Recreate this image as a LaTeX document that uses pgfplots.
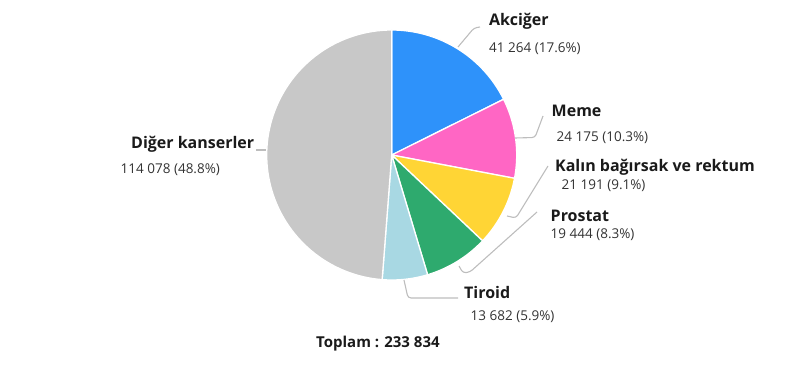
\documentclass[border=0pt]{standalone}
\usepackage{pgfplots}
\pgfplotsset{compat=1.18}
\usepackage{fontspec}
\setmainfont{Open Sans}
\definecolor{cA}{HTML}{2E92FA}
\definecolor{cB}{HTML}{FF66C4}
\definecolor{cC}{HTML}{FFD535}
\definecolor{cD}{HTML}{2EAA6E}
\definecolor{cE}{HTML}{A8D8E3}
\definecolor{cF}{HTML}{C8C8C8}
\definecolor{leader}{HTML}{BDBDBD}
\definecolor{lab}{HTML}{1A1A1A}
\definecolor{val}{HTML}{333333}
% data
\newcommand\vA{41264}% Akciger
\newcommand\vB{24175}% Meme
\newcommand\vC{21191}% Kalin bagirsak
\newcommand\vD{19444}% Prostat
\newcommand\vE{13682}% Tiroid
\newcommand\vF{114078}% Diger
\edef\tot{\fpeval{\vA+\vB+\vC+\vD+\vE+\vF}}
\edef\aO{90}
\edef\aA{\fpeval{\aO-360*\vA/\tot}}
\edef\aB{\fpeval{\aA-360*\vB/\tot}}
\edef\aC{\fpeval{\aB-360*\vC/\tot}}
\edef\aD{\fpeval{\aC-360*\vD/\tot}}
\edef\aE{\fpeval{\aD-360*\vE/\tot}}
\edef\aF{\fpeval{\aE-360*\vF/\tot}}
\newcommand\slice[3]{%
  \addplot[fill=#1, draw=white, line width=1.3bp, line join=round, domain=#2:#3, samples=80, mark=none]
    ({391.7+125*cos(x)},{212+125*sin(x)}) -- (axis cs:391.7,212) -- cycle;}
\newcommand\lab[3]{\node[anchor=base west, inner sep=0pt, text=lab, font=\fontsize{16bp}{19bp}\selectfont\bfseries] at (axis cs:#1,#2) {#3};}
\newcommand\val[3]{\node[anchor=base west, inner sep=0pt, text=val, font=\fontsize{13.5bp}{16bp}\selectfont] at (axis cs:#1,#2) {#3};}
\begin{document}
\begin{tikzpicture}
\begin{axis}[width=800bp,height=367bp,scale only axis,xmin=0,xmax=800,ymin=0,ymax=367,hide axis,clip=false]
\path (axis cs:0,0) rectangle (axis cs:800,367);
\slice{cA}{\aA}{\aO}
\slice{cB}{\aB}{\aA}
\slice{cC}{\aC}{\aB}
\slice{cD}{\aD}{\aC}
\slice{cE}{\aE}{\aD}
\slice{cF}{\aF}{\aE}
% leader lines
\addplot[color=leader, line width=1.1bp, rounded corners=3bp, mark=none] coordinates {(458,320) (474,339) (480,340)};
\addplot[color=leader, line width=1.1bp, rounded corners=3bp, mark=none] coordinates {(515,229) (535,229.5) (543,251)};
\addplot[color=leader, line width=1.1bp, rounded corners=3bp, mark=none] coordinates {(507,151) (516,149) (548,201)};
\addplot[color=leader, line width=1.1bp, rounded corners=3bp, mark=none] coordinates {(459,101) (463,94) (470,95) (537,155)};
\addplot[color=leader, line width=1.1bp, rounded corners=3bp, mark=none] coordinates {(404,87) (408,69) (458,69)};
\addplot[color=leader, line width=1.1bp, mark=none] coordinates {(256,217) (266,217)};
% labels
\lab{489}{341}{Akciğer}
\val{489}{314}{41 264 (17.6\%)}
\lab{551.5}{250}{Meme}
\val{556.5}{225.3}{24 175 (10.3\%)}
\lab{555}{195.3}{Kalın bağırsak ve rektum}
\val{561.5}{177}{21 191 (9.1\%)}
\lab{550.5}{145.3}{Prostat}
\val{550.5}{128.7}{19 444 (8.3\%)}
\lab{464}{68.7}{Tiroid}
\val{470.5}{46.3}{13 682 (5.9\%)}
\lab{131}{218.7}{Diğer kanserler}
\val{120.5}{193}{114 078 (48.8\%)}
\node[anchor=base west, inner sep=0pt, text=lab, font=\fontsize{15bp}{18bp}\selectfont\bfseries] at (axis cs:316,19.7) {Toplam : 233 834};
\end{axis}
\end{tikzpicture}
\end{document}
